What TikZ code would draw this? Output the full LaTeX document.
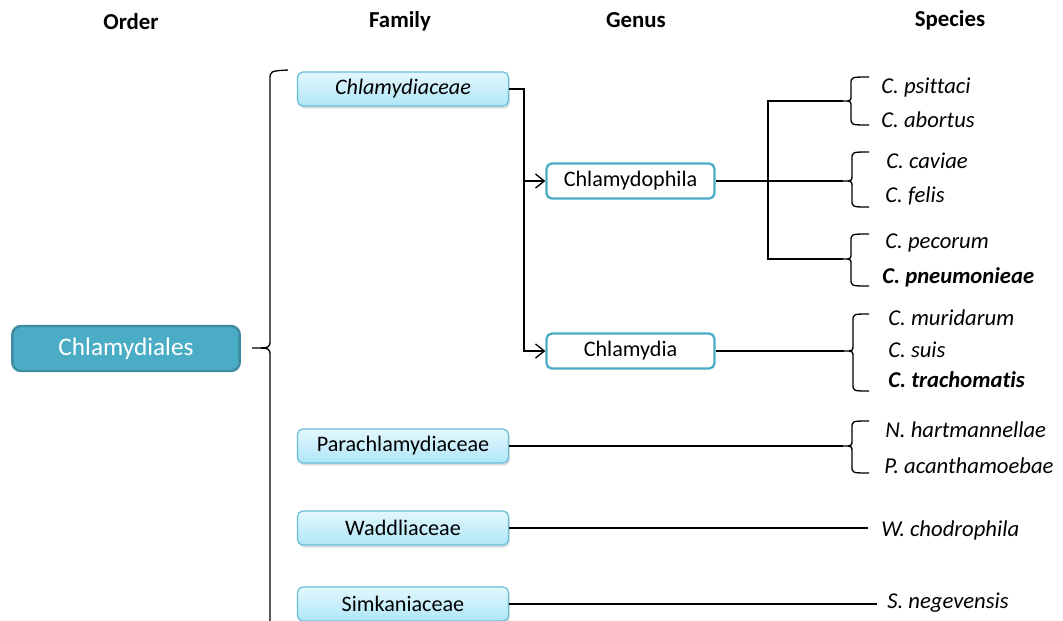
\documentclass[tikz,border=0pt]{standalone}
\usepackage{fontspec}
\setmainfont{Carlito}[Ligatures=NoCommon]
\usetikzlibrary{arrows.meta,shadows}
\definecolor{ordfill}{HTML}{4BACC6}
\definecolor{orddraw}{HTML}{3E8CA2}
\definecolor{famtop}{HTML}{E3F7FD}
\definecolor{fambot}{HTML}{AFE6F7}
\definecolor{famdraw}{HTML}{67BFD7}
\begin{document}
\begin{tikzpicture}[x=0.02cm, y=-0.02cm,
    head/.style={font=\fontsize{13}{15}\selectfont\bfseries},
    orderbox/.style={draw=orddraw, line width=1.4pt, fill=ordfill, rounded corners=5pt,
      minimum width=4.55cm, minimum height=0.9cm, text=white, font=\fontsize{14.4}{17}\selectfont},
    fambox/.style={draw=famdraw, line width=0.7pt, top color=famtop, bottom color=fambot,
      rounded corners=3pt, minimum width=4.22cm, minimum height=0.68cm,
      font=\fontsize{12.6}{15}\selectfont,
      drop shadow={opacity=0.25, shadow xshift=0.03cm, shadow yshift=-0.05cm}},
    genbox/.style={draw=ordfill, line width=1.3pt, fill=white, rounded corners=3pt,
      minimum width=3.36cm, minimum height=0.7cm, font=\fontsize{12.6}{15}\selectfont},
    sp/.style={anchor=west, inner sep=0pt, font=\fontsize{12.9}{15}\selectfont\itshape},
    link/.style={line width=0.75pt},
    arr/.style={link, -{Straight Barb[length=5pt, width=8pt]}}]
  \useasboundingbox (0,0) rectangle (1063,620);
  \clip (0,0) rectangle (1063,620);
  % Draw the column heads
  \node[head] (hord) at (131,22) {Order};
  \node[head] (hfam) at (400,21) {Family};
  \node[head] (hgen) at (636,20) {Genus};
  \node[head] (hspe) at (950,20) {Species};
  % Draw the order
  \node[orderbox] (chlamydiales) at (126,348.5) {Chlamydiales};
  % Draw the families
  \node[fambox] (chlamydiaceae) at (403,89) {\itshape Chlamydiaceae};
  \node[fambox] (parachlamydiaceae) at (403,446) {Parachlamydiaceae};
  \node[fambox] (waddliaceae) at (403,528) {Waddliaceae};
  \node[fambox] (simkaniaceae) at (403,604) {Simkaniaceae};
  % Draw the genera
  \node[genbox] (chlamydophila) at (630.5,181) {Chlamydophila};
  \node[genbox] (chlamydia) at (630.5,351) {Chlamydia};
  % Draw the species
  \node[sp] (psittaci) at (881,88) {C. psittaci};
  \node[sp] (abortus) at (881,120) {C. abortus};
  \node[sp] (caviae) at (886,161) {C. caviae};
  \node[sp] (felis) at (885,196) {C. felis};
  \node[sp] (pecorum) at (885,243) {C. pecorum};
  \node[sp] (pneumonieae) at (882,277) {\bfseries C. pneumonieae};
  \node[sp] (muridarum) at (888,318) {C. muridarum};
  \node[sp] (suis) at (888,350) {C. suis};
  \node[sp] (trachomatis) at (888,380) {\bfseries C. trachomatis};
  \node[sp] (hartmannellae) at (885,430) {N. hartmannellae};
  \node[sp] (acanthamoebae) at (884,466) {P. acanthamoebae};
  \node[sp] (chodrophila) at (881,530) {W. chodrophila};
  \node[sp] (negevensis) at (887,603) {S. negevensis};
  % Draw the order brace
  \coordinate (ordtip) at (252,348);
  \draw[link] (288,70) .. controls (270,71) .. (270,80) -- (270,340) .. controls (270,348) .. (ordtip)
    .. controls (270,348) .. (270,356) -- (270,640);
  % Draw the species braces
  \coordinate (tipA) at (843,101);
  \coordinate (tipB) at (843,181);
  \coordinate (tipC) at (843,259);
  \coordinate (tipD) at (844,351);
  \coordinate (tipE) at (843,446);
  \draw[link] (869,77) .. controls (851,77) .. (851,84) -- (851,95) .. controls (851,101) .. (tipA)
    .. controls (851,101) .. (851,107) -- (851,118) .. controls (851,125) .. (869,125);
  \draw[link] (869,152) .. controls (852,152) .. (852,159) -- (852,175) .. controls (852,181) .. (tipB)
    .. controls (852,181) .. (852,187) -- (852,200) .. controls (852,207) .. (869,207);
  \draw[link] (869,234) .. controls (851,234) .. (851,241) -- (851,253) .. controls (851,259) .. (tipC)
    .. controls (851,259) .. (851,265) -- (851,279) .. controls (851,286) .. (869,286);
  \draw[link] (869,314) .. controls (853,314) .. (853,321) -- (853,345) .. controls (853,351) .. (tipD)
    .. controls (853,351) .. (853,357) -- (853,384) .. controls (853,391) .. (869,391);
  \draw[link] (869,421) .. controls (852,421) .. (852,428) -- (852,440) .. controls (852,446) .. (tipE)
    .. controls (852,446) .. (852,452) -- (852,466) .. controls (852,473) .. (869,473);
  % Draw the connectors
  \draw[arr] (chlamydiaceae.east) -- ++(15,0) |- (chlamydophila.west);
  \draw[arr] (chlamydiaceae.east) -- ++(15,0) |- (chlamydia.west);
  \coordinate (split) at (768,181);
  \draw[link] (chlamydophila.east) -- (tipB);
  \draw[link] (tipA) -| (split) |- (tipC);
  \draw[link] (chlamydia.east) -- (tipD);
  \draw[link] (parachlamydiaceae.east) -- (tipE);
  \draw[link, shorten >=0.26cm] (waddliaceae.east) -- (waddliaceae.east -| chodrophila.west);
  \draw[link, shorten >=0.2cm] (simkaniaceae.east) -- (simkaniaceae.east -| negevensis.west);
\end{tikzpicture}
\end{document}
